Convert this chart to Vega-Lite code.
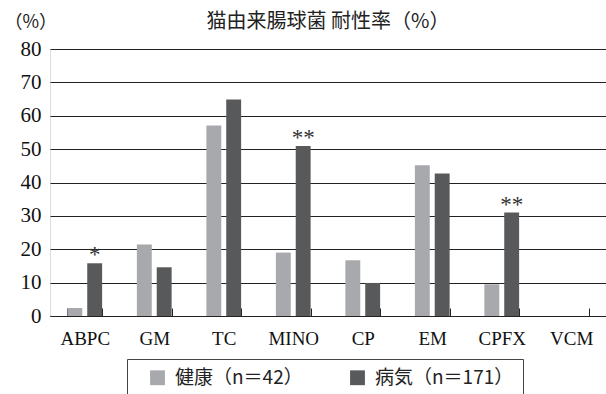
{
  "$schema": "https://vega.github.io/schema/vega-lite/v6.json",
  "width": 556,
  "height": 267,
  "autosize": {"type": "none"},
  "padding": {"left": 50, "top": 49, "right": 0, "bottom": 78},
  "background": "white",
  "title": {
    "text": "猫由来腸球菌 耐性率（%）",
    "font": "Noto Sans CJK JP",
    "fontSize": 20,
    "fontWeight": "normal",
    "color": "#222",
    "anchor": "middle",
    "baseline": "bottom",
    "offset": -17,
    "dy": 22
  },
  "data": {
    "values": [
      {"drug": "ABPC", "group": "健康（n＝42）", "value": 2.4, "star": ""},
      {"drug": "ABPC", "group": "病気（n＝171）", "value": 15.8, "star": "*"},
      {"drug": "GM", "group": "健康（n＝42）", "value": 21.4, "star": ""},
      {"drug": "GM", "group": "病気（n＝171）", "value": 14.6, "star": ""},
      {"drug": "TC", "group": "健康（n＝42）", "value": 57.1, "star": ""},
      {"drug": "TC", "group": "病気（n＝171）", "value": 64.9, "star": ""},
      {"drug": "MINO", "group": "健康（n＝42）", "value": 19.0, "star": ""},
      {"drug": "MINO", "group": "病気（n＝171）", "value": 50.9, "star": "**"},
      {"drug": "CP", "group": "健康（n＝42）", "value": 16.7, "star": ""},
      {"drug": "CP", "group": "病気（n＝171）", "value": 9.9, "star": ""},
      {"drug": "EM", "group": "健康（n＝42）", "value": 45.2, "star": ""},
      {"drug": "EM", "group": "病気（n＝171）", "value": 42.7, "star": ""},
      {"drug": "CPFX", "group": "健康（n＝42）", "value": 9.5, "star": ""},
      {"drug": "CPFX", "group": "病気（n＝171）", "value": 31.0, "star": "**"},
      {"drug": "VCM", "group": "健康（n＝42）", "value": 0, "star": ""},
      {"drug": "VCM", "group": "病気（n＝171）", "value": 0, "star": ""}
    ]
  },
  "encoding": {
    "x": {
      "field": "drug",
      "type": "nominal",
      "sort": ["ABPC", "GM", "TC", "MINO", "CP", "EM", "CPFX", "VCM"],
      "scale": {"paddingInner": 0.5, "paddingOuter": 0.25},
      "axis": {
        "title": null,
        "labelAngle": 0,
        "labelFont": "Liberation Serif",
        "labelFontSize": 19,
        "labelColor": "#111",
        "labelPadding": 21,
        "tickBand": "extent",
        "tickSize": -8,
        "tickColor": "#222",
        "domainColor": "#222",
        "domainWidth": 1.2
      }
    },
    "xOffset": {
      "field": "group",
      "type": "nominal",
      "scale": {"domain": ["健康（n＝42）", "病気（n＝171）"], "paddingInner": 0.25, "paddingOuter": 0}
    },
    "y": {
      "field": "value",
      "type": "quantitative",
      "scale": {"domain": [0, 80]},
      "axis": {
        "title": "（%）",
        "titleAngle": 0,
        "titleFont": "Noto Sans CJK JP",
        "titleFontSize": 18,
        "titleFontWeight": "normal",
        "titleColor": "#222",
        "titleAlign": "left",
        "titleBaseline": "middle",
        "titleX": -46,
        "titleY": -27,
        "values": [0, 10, 20, 30, 40, 50, 60, 70, 80],
        "labelFont": "Liberation Serif",
        "labelFontSize": 21,
        "labelColor": "#111",
        "labelPadding": 9,
        "domain": false,
        "ticks": false,
        "grid": true,
        "gridColor": "#222",
        "gridWidth": 1.2
      }
    }
  },
  "layer": [
    {
      "mark": {"type": "bar", "strokeWidth": 0},
      "encoding": {
        "color": {
          "field": "group",
          "type": "nominal",
          "scale": {"domain": ["健康（n＝42）", "病気（n＝171）"], "range": ["#a7a9ac", "#58595b"]},
          "legend": {
            "title": null,
            "orient": "none",
            "direction": "horizontal",
            "legendX": 77,
            "legendY": 310,
            "symbolType": "square",
            "symbolSize": 220,
            "symbolStrokeWidth": 0,
            "symbolOffset": 12,
            "labelFont": "Noto Sans CJK JP",
            "labelFontSize": 19,
            "labelColor": "#222",
            "labelOffset": 8,
            "columnPadding": 33,
            "padding": 9,
            "strokeColor": "#444",
            "fillColor": "white"
          }
        }
      }
    },
    {
      "transform": [{"filter": "datum.star != ''"}],
      "mark": {"type": "text", "baseline": "bottom", "dy": 4, "font": "Liberation Serif", "fontSize": 23, "fill": "#333"},
      "encoding": {"text": {"field": "star"}}
    }
  ]
}
